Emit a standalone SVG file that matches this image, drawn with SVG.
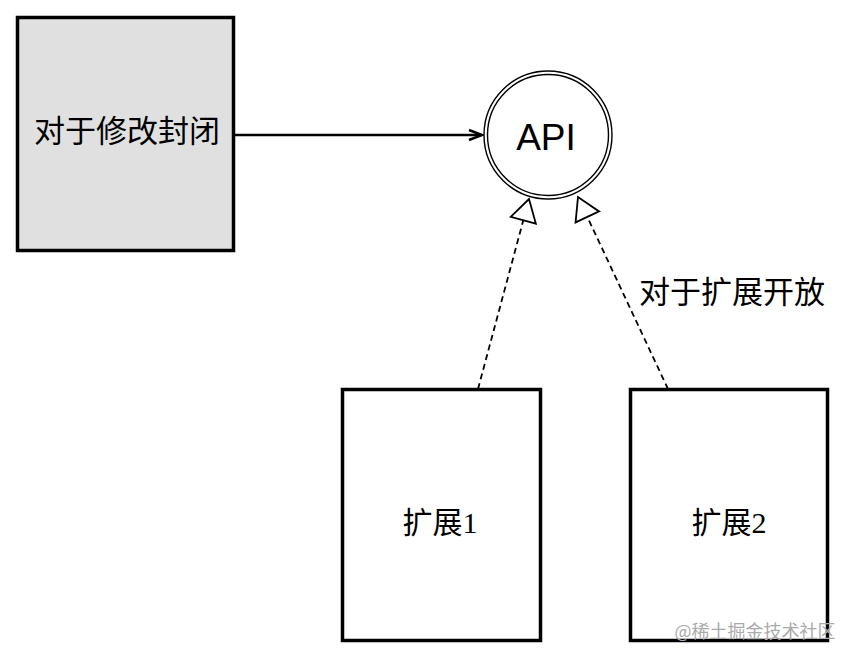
<svg xmlns="http://www.w3.org/2000/svg" width="856" height="660" viewBox="0 0 856 660">
<style>
.box{stroke:#000;stroke-width:3.5;}
.sans{font-family:"Liberation Sans","Noto Sans CJK SC",sans-serif;fill:#000;}
.serif{font-family:"Liberation Serif","Noto Sans CJK SC",serif;fill:#000;}
.dash{stroke:#000;stroke-width:1.8;stroke-dasharray:6 4;fill:none;}
</style>
<defs>
<marker id="open" markerWidth="16" markerHeight="14" refX="14" refY="7" orient="auto" markerUnits="userSpaceOnUse">
<path d="M1,2 L14,7 L1,12" fill="none" stroke="#000" stroke-width="2.5"/>
</marker>
<marker id="tri" markerWidth="26" markerHeight="30" refX="24" refY="15" orient="auto" markerUnits="userSpaceOnUse">
<path d="M2,2 L24,15 L2,28 Z" fill="#fff" stroke="#000" stroke-width="1.8"/>
</marker>
</defs>
<rect width="856" height="660" fill="#fff"/>
<g id="connectors">
<line x1="235" y1="135" x2="482" y2="135" stroke="#000" stroke-width="2.5" marker-end="url(#open)"/>
<line class="dash" x1="478" y1="389" x2="529" y2="199" marker-end="url(#tri)"/>
<line class="dash" x1="668" y1="389" x2="578" y2="197" marker-end="url(#tri)"/>
</g>
<g id="closed">
<rect class="box" x="17.5" y="17.5" width="216" height="233" fill="#e0e0e0"/>
<text class="sans" x="127" y="142" font-size="31" text-anchor="middle">对于修改封闭</text>
</g>
<g id="api">
<circle cx="548" cy="135" r="64" fill="#fff" stroke="#000" stroke-width="1.4"/>
<circle cx="548" cy="135" r="60.5" fill="none" stroke="#000" stroke-width="1.4"/>
<text class="sans" x="546" y="150" font-size="37" text-anchor="middle">API</text>
</g>
<g id="open-label">
<text class="sans" x="732" y="303" font-size="31" text-anchor="middle">对于扩展开放</text>
</g>
<g id="ext1">
<rect class="box" x="342.5" y="389.5" width="198" height="251" fill="#fff"/>
<text class="serif" x="440" y="533" font-size="30" text-anchor="middle">扩展1</text>
</g>
<g id="ext2">
<rect class="box" x="630.5" y="389.5" width="197" height="251" fill="#fff"/>
<text class="serif" x="729" y="533" font-size="30" text-anchor="middle">扩展2</text>
</g>
<text x="755" y="638" font-size="18" text-anchor="middle" font-family="'Noto Sans CJK SC',sans-serif" fill="#aaa">@稀土掘金技术社区</text>
</svg>
